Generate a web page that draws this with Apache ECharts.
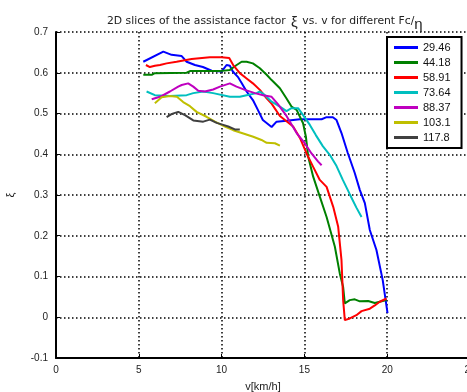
<!DOCTYPE html>
<html>
<head>
<meta charset="utf-8">
<script src="https://cdn.jsdelivr.net/npm/echarts@6/dist/echarts.min.js"></script>
<style>html,body{margin:0;padding:0;background:#fff;}#c{width:467px;height:392px;}</style>
</head>
<body>
<div id="c"></div>
<script>
// Series names (legend labels)
var names = ['29.46', '44.18', '58.91', '73.64', '88.37', '103.1', '117.8'];
var colors = ['#0000ff', '#008000', '#ff0000', '#00bfbf', '#bf00bf', '#bfbf00', '#404040'];

// v [km/h] and xi values per slice
var v1 = [5.27, 6.48, 6.98, 7.59, 7.89, 8.39, 8.87, 9.40, 10.0, 10.30, 10.50, 10.68, 10.98, 11.21, 11.51, 11.89, 12.19, 12.49, 13.02, 13.32, 13.92, 14.73, 16.04, 16.34, 16.72, 16.94, 17.24, 17.62, 18.04, 18.35, 18.65, 18.95, 19.35, 19.73, 20.02];
var xi1 = [0.627, 0.652, 0.644, 0.641, 0.627, 0.619, 0.614, 0.605, 0.603, 0.619, 0.617, 0.603, 0.590, 0.575, 0.554, 0.533, 0.509, 0.484, 0.467, 0.480, 0.482, 0.486, 0.486, 0.491, 0.491, 0.484, 0.452, 0.403, 0.354, 0.312, 0.280, 0.214, 0.165, 0.091, 0.010];

var v2 = [5.27, 5.78, 5.97, 7.89, 8.09, 9.90, 10.50, 10.91, 11.21, 11.51, 11.89, 12.31, 12.72, 13.02, 13.52, 13.92, 14.22, 14.53, 14.92, 15.09, 15.23, 15.53, 15.93, 16.34, 16.84, 17.14, 17.34, 17.44, 17.74, 18.04, 18.35, 18.85, 19.25, 19.55, 19.96];
var xi2 = [0.595, 0.595, 0.599, 0.600, 0.604, 0.604, 0.607, 0.619, 0.627, 0.627, 0.623, 0.611, 0.595, 0.582, 0.562, 0.537, 0.517, 0.509, 0.476, 0.443, 0.394, 0.345, 0.296, 0.246, 0.173, 0.107, 0.074, 0.034, 0.042, 0.044, 0.039, 0.040, 0.035, 0.038, 0.042];

var v3 = [5.43, 5.67, 5.97, 6.28, 6.68, 7.28, 8.19, 9.29, 10.0, 10.46, 10.70, 11.10, 11.51, 11.89, 12.31, 12.72, 13.04, 13.52, 14.32, 14.73, 15.13, 15.53, 15.93, 16.34, 16.74, 17.04, 17.24, 17.34, 17.44, 17.74, 18.14, 18.45, 18.95, 19.25, 19.55, 19.96];
var xi3 = [0.619, 0.614, 0.617, 0.619, 0.623, 0.627, 0.634, 0.638, 0.638, 0.636, 0.619, 0.599, 0.586, 0.574, 0.558, 0.537, 0.523, 0.494, 0.468, 0.440, 0.402, 0.369, 0.337, 0.320, 0.271, 0.222, 0.140, 0.042, -0.007, -0.003, 0.005, 0.015, 0.021, 0.029, 0.038, 0.046];

var v4 = [5.47, 5.97, 6.88, 7.89, 8.29, 8.89, 9.49, 10.50, 11.10, 11.51, 12.11, 12.31, 12.61, 13.02, 13.52, 13.92, 14.22, 14.62, 14.92, 15.33, 15.69, 16.11, 16.54, 16.94, 17.32, 17.74, 18.14, 18.45];
var xi4 = [0.554, 0.545, 0.543, 0.545, 0.550, 0.554, 0.550, 0.541, 0.541, 0.545, 0.550, 0.554, 0.545, 0.529, 0.517, 0.506, 0.513, 0.513, 0.496, 0.472, 0.447, 0.420, 0.398, 0.371, 0.337, 0.302, 0.269, 0.246];

var v5 = [5.78, 6.28, 6.88, 7.38, 7.59, 7.98, 8.29, 8.59, 8.99, 9.49, 9.90, 10.50, 10.90, 11.41, 12.01, 12.51, 13.02, 13.40, 13.92, 14.53, 15.02, 15.43, 15.83, 16.04];
var xi5 = [0.535, 0.541, 0.554, 0.566, 0.570, 0.574, 0.566, 0.556, 0.554, 0.559, 0.566, 0.574, 0.566, 0.558, 0.550, 0.545, 0.541, 0.523, 0.494, 0.452, 0.427, 0.402, 0.382, 0.373];

var v6 = [5.97, 6.38, 6.88, 7.30, 7.68, 8.09, 8.49, 9.09, 9.60, 10.20, 10.70, 11.31, 11.91, 12.41, 12.72, 13.22, 13.52];
var xi6 = [0.525, 0.540, 0.543, 0.541, 0.528, 0.518, 0.504, 0.492, 0.480, 0.468, 0.459, 0.451, 0.443, 0.435, 0.428, 0.427, 0.421];

var v7 = [6.68, 7.00, 7.38, 7.79, 8.29, 8.89, 9.29, 9.70, 10.10, 10.40, 10.80, 11.10];
var xi7 = [0.491, 0.499, 0.504, 0.496, 0.483, 0.480, 0.485, 0.477, 0.472, 0.468, 0.461, 0.461];

var xTicks = { min: 0, max: 25, interval: 5 };
var yTicks = { min: -0.1, max: 0.7, interval: 0.1 };

var vs = [v1, v2, v3, v4, v5, v6, v7];
var xis = [xi1, xi2, xi3, xi4, xi5, xi6, xi7];

function pairs(a, b) { return a.map(function (x, i) { return [x, b[i]]; }); }

var series = names.map(function (n, i) {
  return {
    name: n, type: 'line', data: pairs(vs[i], xis[i]),
    showSymbol: false, symbol: 'none', smooth: false,
    lineStyle: { color: colors[i], width: 2 }, itemStyle: { color: colors[i] },
    animation: false
  };
});

var font = 'Liberation Sans, Arial, sans-serif';
var tfont = 'DejaVu Sans, sans-serif';
var chart = echarts.init(document.getElementById('c'), null, { renderer: 'canvas' });
chart.setOption({
  backgroundColor: '#fff',
  animation: false,
  title: {
    text: '2D slices of the assistance factor {xi|ξ} vs. v for different Fc/{eta|η}',
    left: 102, top: 6,
    textStyle: {
      fontFamily: tfont, fontSize: 10.8, fontWeight: 'normal', color: '#222',
      rich: {
        xi: { fontFamily: font, fontSize: 15, color: '#222', padding: [2, 1, 0, 2] },
        eta: { fontFamily: font, fontSize: 15, color: '#222', padding: [6, 0, 0, 0] }
      }
    }
  },
  legend: {
    data: names, orient: 'vertical', left: 387, top: 37,
    padding: [4, 11, 4, 7], itemGap: 2, itemWidth: 24, itemHeight: 3,
    icon: 'rect', backgroundColor: '#fff', borderColor: '#000', borderWidth: 2,
    textStyle: { fontFamily: font, fontSize: 11, color: '#111', padding: [0, 0, 0, 0], lineHeight: 13 }
  },
  grid: { left: 56, top: 32, width: 414, height: 326, containLabel: false, outerBoundsMode: 'none' },
  xAxis: {
    type: 'value', min: xTicks.min, max: xTicks.max, interval: xTicks.interval,
    name: 'v[km/h]', nameLocation: 'middle', nameGap: 23,
    nameTextStyle: { fontFamily: font, fontSize: 11, color: '#222' },
    axisLine: { show: true, onZero: false, lineStyle: { color: '#000', width: 2 } },
    axisTick: { show: true, inside: true, length: 4, lineStyle: { color: '#000' } },
    axisLabel: { fontFamily: font, fontSize: 10, color: '#222', margin: 7, hideOverlap: false, showMaxLabel: true },
    splitLine: { show: true, lineStyle: { color: '#000', width: 1.5, type: [1.5, 2.5] } }
  },
  yAxis: {
    type: 'value', min: yTicks.min, max: yTicks.max, interval: yTicks.interval,
    name: 'ξ', nameLocation: 'middle', nameGap: 40, nameRotate: 90,
    nameTextStyle: { fontFamily: font, fontSize: 11, color: '#222' },
    axisLine: { show: true, onZero: false, lineStyle: { color: '#000', width: 2 } },
    axisTick: { show: true, inside: true, length: 4, lineStyle: { color: '#000' } },
    axisLabel: { fontFamily: font, fontSize: 10, color: '#222', margin: 8,
      formatter: function (v) { return String(Math.round(v * 10) / 10); } },
    splitLine: { show: true, lineStyle: { color: '#000', width: 1.5, type: [1.5, 2.5] } }
  },
  series: series
});
</script>
</body>
</html>
